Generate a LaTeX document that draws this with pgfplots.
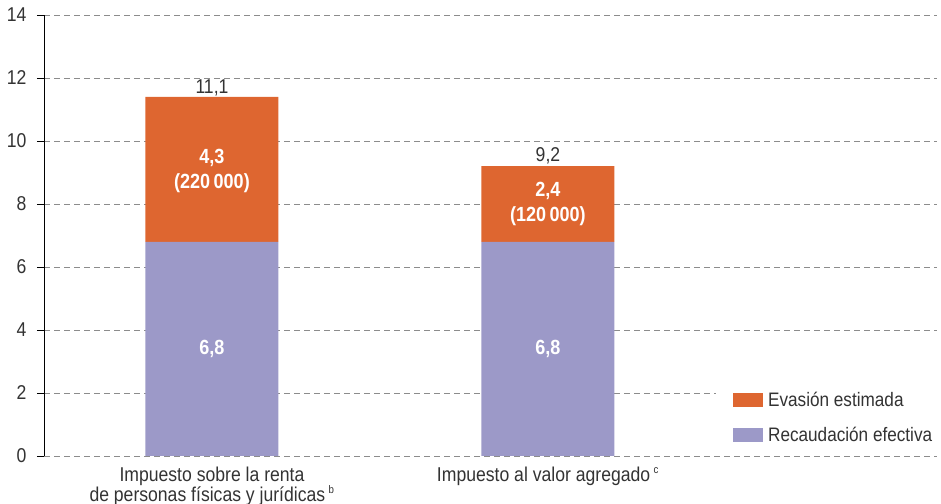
\documentclass[border=0pt]{standalone}
\usepackage{fontspec}
\setmainfont{Liberation Sans}[FakeStretch=0.88]
\usepackage{pgfplots}
\pgfplotsset{compat=1.18}
\definecolor{evas}{HTML}{DE6630}
\definecolor{recau}{HTML}{9C99C8}
\definecolor{txt}{HTML}{333333}
\definecolor{gridc}{HTML}{8C8C8C}
\newcommand{\lbl}{\fontsize{20bp}{20bp}\selectfont}
\newcommand{\vlb}{\fontsize{20.5bp}{25bp}\selectfont\bfseries}
\begin{document}
\begin{tikzpicture}
\begin{axis}[
  scale only axis, width=893bp, height=441bp,
  ybar stacked, bar width=133bp,
  xmin=-0.5, xmax=2.158, ymin=0, ymax=14,
  axis x line*=bottom, axis y line*=left,
  x axis line style={draw=none},
  y axis line style={draw=black, line width=0.8bp, -},
  ytick={0,2,...,14},
  xtick={0,1},
  xticklabels={{Impuesto sobre la renta\\de personas físicas y jurídicas\,\textsuperscript{\fontsize{11bp}{11bp}\selectfont b}},{Impuesto al valor agregado\,\textsuperscript{\fontsize{11bp}{11bp}\selectfont c}}},
  x tick label style={align=center, font=\lbl, text=txt},
  y tick label style={font=\fontsize{20bp}{20bp}\selectfont, text=txt, xshift=-7bp},
  major x tick style={draw=none},
  extra x ticks={-0.5,0.5,1.5},
  extra x tick labels={},
  extra x tick style={major tick style={draw=black, line width=0.8bp}, major tick length=7bp},
  tick align=outside,
  major tick length=7bp,
  ytick style={draw=black, line width=0.8bp},
  /pgf/number format/assume math mode=true,
  ymajorgrids,
  grid style={gridc, dashed, dash pattern=on 6bp off 4bp, line width=0.7bp},
  legend image code/.code={\fill[#1] (0bp,-7bp) rectangle (30bp,7bp);},
  reverse legend,
  legend cell align=left,
  legend style={at={(axis cs:1.5,2.2)}, anchor=north west, draw=none, fill=white,
    inner xsep=17bp, inner ysep=3bp, font=\fontsize{19.5bp}{20bp}\selectfont, text=txt,
    row sep=15bp},
]
\addplot[fill=recau, draw=none] coordinates {(0,6.8) (1,6.8)};
\addplot[fill=evas, draw=none] coordinates {(0,4.6) (1,2.4)};
\legend{\hspace{3bp}Recaudación efectiva, \hspace{3bp}Evasión estimada}
\draw[black, line width=0.8bp] (axis cs:-0.5,0) -- (axis cs:1.5,0);
\coordinate (A1) at (axis cs:0,3.4);
\coordinate (A2) at (axis cs:1,3.4);
\coordinate (B1) at (axis cs:0,9.05);
\coordinate (B2) at (axis cs:1,8.0);
\coordinate (T1) at (axis cs:0,11.4);
\coordinate (T2) at (axis cs:1,9.24);
\coordinate (O) at (axis cs:-0.5,0);
\end{axis}
\node[text=white, font=\vlb] at (A1) {6,8};
\node[text=white, font=\vlb] at (A2) {6,8};
\node[text=white, font=\vlb, align=center] at (B1) {4,3\\(220\,000)};
\node[text=white, font=\vlb, align=center] at (B2) {2,4\\(120\,000)};
\node[text=txt, font=\lbl, anchor=south, inner sep=1bp] at (T1) {11,1};
\node[text=txt, font=\lbl, anchor=south, inner sep=1bp] at (T2) {9,2};
\pgfresetboundingbox
\path (O) ++(-44bp,-48bp) rectangle ++(941bp,504bp);
\end{tikzpicture}
\end{document}
